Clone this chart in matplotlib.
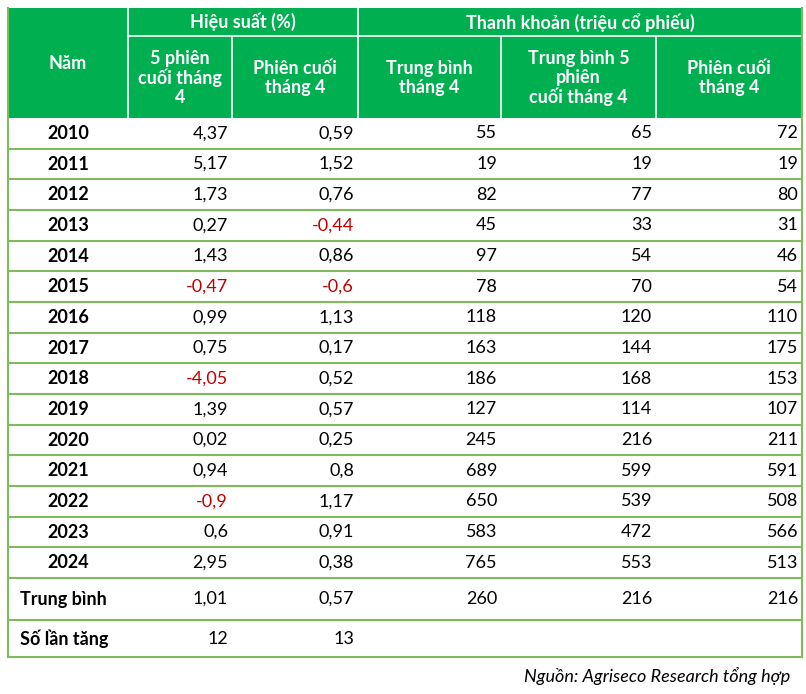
import matplotlib.pyplot as plt
from matplotlib.patches import Rectangle

years = ["2010","2011","2012","2013","2014","2015","2016","2017","2018","2019","2020","2021","2022","2023","2024"]
perf5 = ["4,37","5,17","1,73","0,27","1,43","-0,47","0,99","0,75","-4,05","1,39","0,02","0,94","-0,9","0,6","2,95"]
perfLast = ["0,59","1,52","0,76","-0,44","0,86","-0,6","1,13","0,17","0,52","0,57","0,25","0,8","1,17","0,91","0,38"]
liqAvg = ["55","19","82","45","97","78","118","163","186","127","245","689","650","583","765"]
liq5 = ["65","19","77","33","54","70","120","144","168","114","216","599","539","472","553"]
liqLast = ["72","19","80","31","46","54","110","175","153","107","211","591","508","566","513"]
avg_row = ["Trung bình","1,01","0,57","260","216","216"]
count_row = ["Số lần tăng","12","13","","",""]
group_headers = ["Hiệu suất (%)", "Thanh khoản (triệu cổ phiếu)"]
sub_headers = ["5 phiên\ncuối tháng\n4", "Phiên cuối\ntháng 4", "Trung bình\ntháng 4", "Trung bình 5\nphiên\ncuối tháng 4", "Phiên cuối\ntháng 4"]
source = "Nguồn: Agriseco Research tổng hợp"

W, H = 806, 694
fig = plt.figure(figsize=(W/100, H/100), dpi=100)
ax = fig.add_axes([0, 0, 1, 1])
ax.set_xlim(0, W); ax.set_ylim(H, 0); ax.axis("off")
plt.rcParams["font.family"] = "Lato"

GREEN = "#00b050"; LINE = "#7fba5c"; RED = "#c00000"
xs = [8, 128, 232, 358, 501, 656, 802]
top, mid, hb = 8, 36, 118
fs = 13

ax.add_patch(Rectangle((xs[0], top), xs[-1]-xs[0], hb-top, color=GREEN, lw=0))
# header white lines
for x in xs[1:-1]:
    y0 = top if x in (128, 232, 358) else mid
    ax.plot([x, x], [y0 if x != 232 and x != 501 and x != 656 else mid, hb], color="white", lw=1.2)
ax.plot([xs[1], xs[-1]], [mid, mid], color="white", lw=1.2)
ax.text((xs[0]+xs[1])/2, (top+hb)/2, "Năm", color="white", ha="center", va="center", fontsize=fs, weight="bold")
ax.text((xs[1]+xs[3])/2, (top+mid)/2, group_headers[0], color="white", ha="center", va="center", fontsize=fs, weight="bold")
ax.text((xs[3]+xs[6])/2, (top+mid)/2, group_headers[1], color="white", ha="center", va="center", fontsize=fs, weight="bold")
for i, t in enumerate(sub_headers):
    ax.text((xs[i+1]+xs[i+2])/2, (mid+hb)/2+1, t, color="white", ha="center", va="center", fontsize=fs, weight="bold", linespacing=1.15)

rh = (578-hb)/len(years)
def row(y0, y1, cells, colors, label_center=True):
    yc = (y0+y1)/2
    ax.text((xs[0]+xs[1])/2 if label_center else xs[0]+12, yc, cells[0], ha="center" if label_center else "left",
            va="center", fontsize=fs, weight="bold")
    for j in range(1, 6):
        ax.text(xs[j+1]-4, yc, cells[j], ha="right", va="center", fontsize=fs, color=colors[j])
    ax.plot([xs[0], xs[-1]], [y1, y1], color=LINE, lw=1.5)

def col(v):
    return RED if v.startswith("-") else "black"

for i, yr in enumerate(years):
    y0 = hb + i*rh
    cells = [yr, perf5[i], perfLast[i], liqAvg[i], liq5[i], liqLast[i]]
    row(y0, y0+rh, cells, [None]+[col(c) for c in cells[1:]])
row(578, 620, avg_row, ["black"]*6, label_center=False)
row(620, 657, count_row, ["black"]*6, label_center=False)
ax.plot([xs[0], xs[0]], [top, 657], color=LINE, lw=1.5)
ax.plot([xs[-1], xs[-1]], [top, 657], color=LINE, lw=1.5)

ax.text(xs[-1]-12, 676, source, ha="right", va="center", fontsize=fs, style="italic")
fig.savefig("out.png", dpi=100)
